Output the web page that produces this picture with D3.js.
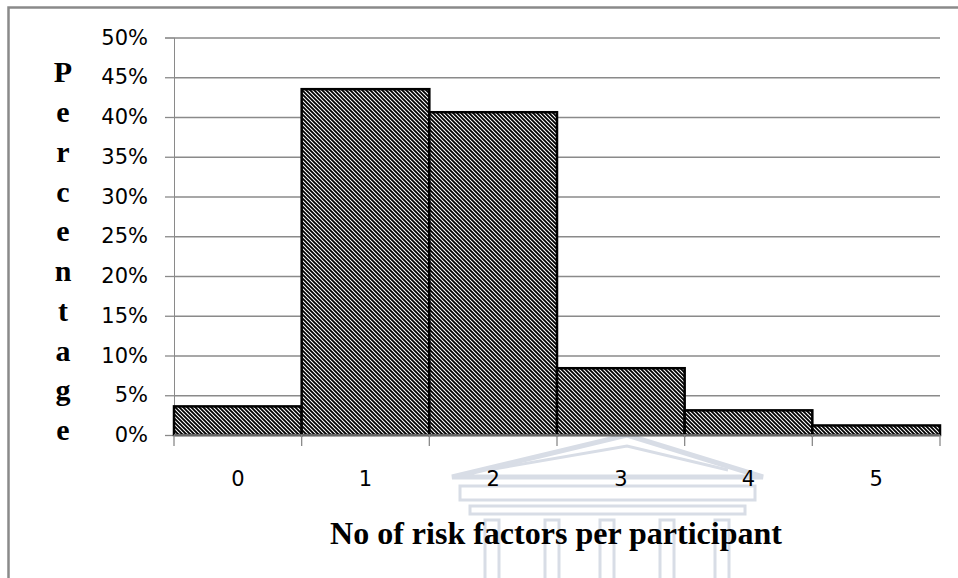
<!DOCTYPE html>
<html>
<head>
<meta charset="utf-8">
<script src="https://cdn.jsdelivr.net/npm/d3@7"></script>
<style>
html,body{margin:0;padding:0;background:#fff;}
svg{display:block;}
</style>
</head>
<body>
<svg id="chart" width="958" height="578"></svg>
<script>
const categories = ["0","1","2","3","4","5"];
const values = [3.6, 43.5, 40.6, 8.4, 3.1, 1.2];
const yTicks = [0,5,10,15,20,25,30,35,40,45,50];
const yTitle = "Percentage";
const xTitle = "No of risk factors per participant";

const svg = d3.select("#chart");
const W = 958, H = 578;
const m = {left:174, right:18, top:37.5, bottom:143};

// outer border
svg.append("path")
  .attr("d", `M8.5,${H} L8.5,7.5 L${W},7.5`)
  .attr("fill","none").attr("stroke","#8a8a8a").attr("stroke-width",2.5);

// watermark (faint building)
const wm = svg.append("g").attr("fill","none").attr("stroke","#d8dde6").attr("stroke-width",5);
wm.append("path").attr("d","M452,477 L627,435 L763,477 Z");
wm.append("path").attr("d","M488,470 L627,446 L728,470").attr("stroke-width",3);
wm.append("rect").attr("x",460).attr("y",486).attr("width",295).attr("height",14).attr("stroke-width",3);
wm.append("rect").attr("x",470).attr("y",506).attr("width",275).attr("height",8).attr("stroke-width",3);
[485,545,600,660,715].forEach(cx=>{
  wm.append("rect").attr("x",cx).attr("y",520).attr("width",14).attr("height",H-515).attr("stroke-width",3);
});

// pattern
const defs = svg.append("defs");
const pat = defs.append("pattern").attr("id","hatch").attr("patternUnits","userSpaceOnUse")
  .attr("width",4).attr("height",4);
pat.append("rect").attr("width",4).attr("height",4).attr("fill","#fff");
pat.append("path").attr("d","M-1,-1 L5,5 M-1,3 L1,5 M3,-1 L5,1").attr("stroke","#000").attr("stroke-width",1.8);

const x = d3.scaleBand().domain(categories).range([m.left, W-m.right]).padding(0);
const y = d3.scaleLinear().domain([0,50]).range([H-m.bottom, m.top]);

// gridlines + tick marks
const yAxis = d3.axisLeft(y).tickValues(yTicks).tickFormat(d=>d+"%").tickSize(9).tickPadding(17);
const gy = svg.append("g").attr("transform",`translate(${m.left},0)`).call(yAxis);
gy.select(".domain").attr("stroke","#8a8a8a");
gy.selectAll(".tick line").attr("stroke","#8a8a8a").attr("stroke-width",1.3);
gy.selectAll(".tick").append("line").attr("x1",0).attr("x2",W-m.right-m.left)
  .attr("stroke","#8a8a8a").attr("stroke-width",1.3);
gy.selectAll(".tick text").attr("font-family","DejaVu Sans, Verdana, sans-serif").attr("font-size",21).attr("fill","#000");

// bars
svg.append("g").selectAll("rect").data(values).join("rect")
  .attr("x",(d,i)=>x(categories[i]))
  .attr("y",d=>y(d))
  .attr("width",x.bandwidth())
  .attr("height",d=>y(0)-y(d))
  .attr("fill","url(#hatch)")
  .attr("stroke","#000").attr("stroke-width",2.5);

// x axis
const xEdges = categories.map(c=>x(c)).concat([W-m.right]);
const gx = svg.append("g");
gx.append("line").attr("x1",m.left).attr("x2",W-m.right).attr("y1",y(0)).attr("y2",y(0)).attr("stroke","#8a8a8a").attr("stroke-width",1.3);
gx.selectAll("line.tk").data(xEdges).join("line").attr("class","tk")
  .attr("x1",d=>d).attr("x2",d=>d).attr("y1",y(0)).attr("y2",y(0)+11)
  .attr("stroke","#8a8a8a").attr("stroke-width",1.3);
gx.selectAll("text").data(categories).join("text")
  .attr("x",d=>x(d)+x.bandwidth()/2).attr("y",y(0)+44)
  .attr("text-anchor","middle").attr("dominant-baseline","central")
  .attr("font-family","DejaVu Sans, Verdana, sans-serif").attr("font-size",21).attr("fill","#000")
  .text(d=>d);

// y title stacked letters
svg.append("g").selectAll("text").data(yTitle.split("")).join("text")
  .attr("x",63).attr("y",(d,i)=>y(45-i*5)+5)
  .attr("text-anchor","middle")
  .attr("font-family","Liberation Serif, Times New Roman, serif").attr("font-weight","bold")
  .attr("font-size",30).attr("fill","#000")
  .text(d=>d);

// x title
svg.append("text").attr("x",556).attr("y",544)
  .attr("text-anchor","middle")
  .attr("font-family","Liberation Serif, Times New Roman, serif").attr("font-weight","bold")
  .attr("font-size",32).attr("fill","#000").text(xTitle);
</script>
</body>
</html>
